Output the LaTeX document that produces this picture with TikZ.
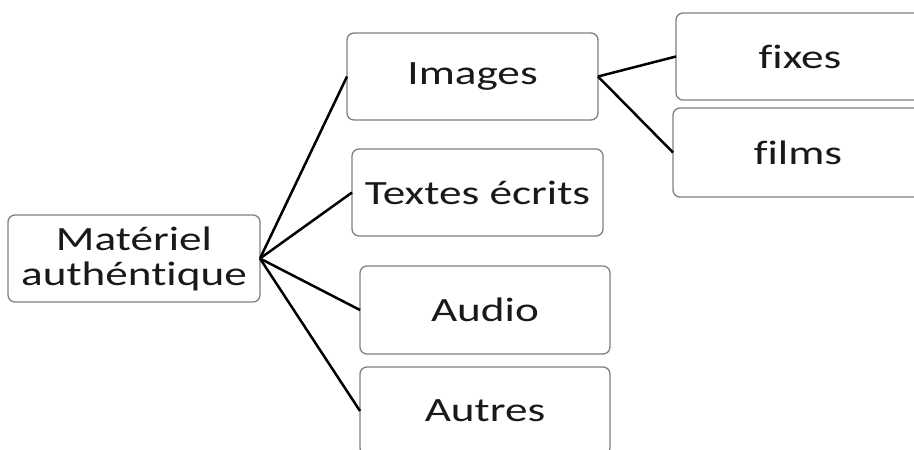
\documentclass[tikz,border=0pt]{standalone}
\usepackage{fontspec}
\setmainfont{Carlito}[FakeStretch=1.33, Ligatures=NoCommon]
\begin{document}
\begin{tikzpicture}[x=1pt,y=-1pt,
  box/.style={draw=black!50, line width=1.3pt, rounded corners=7pt, minimum width=251pt, minimum height=87pt, inner sep=0pt, outer sep=0pt, align=center, font=\fontsize{34}{35}\selectfont, text=black!90},
  link/.style={draw=black, line width=2.5pt}]
\useasboundingbox (0,0) rectangle (914,450);
\clip (0,0) rectangle (914,450);
\node[box, minimum width=252pt] (mat) at (134,258.5) {Matériel\\authéntique};
\node[box] (img) at (472.5,76.5) {Images};
\node[box] (txt) at (477.5,192.5) {Textes écrits};
\node[box, minimum width=250pt, minimum height=88pt] (aud) at (485,310) {Audio};
\node[box, minimum width=250pt, minimum height=88pt] (aut) at (485,411) {Autres};
\node[box, minimum width=248pt] (fix) at (800,56.5) {f\kern0pt ixes};
\node[box, minimum width=250pt, minimum height=89pt] (fil) at (798,152.5) {f\kern0pt ilms};
\draw[link] (mat.east) -- (img.west);
\draw[link] (mat.east) -- (txt.west);
\draw[link] (mat.east) -- (aud.west);
\draw[link] (mat.east) -- (aut.west);
\draw[link] (img.east) -- (fix.west);
\draw[link] (img.east) -- (fil.west);
\end{tikzpicture}
\end{document}
